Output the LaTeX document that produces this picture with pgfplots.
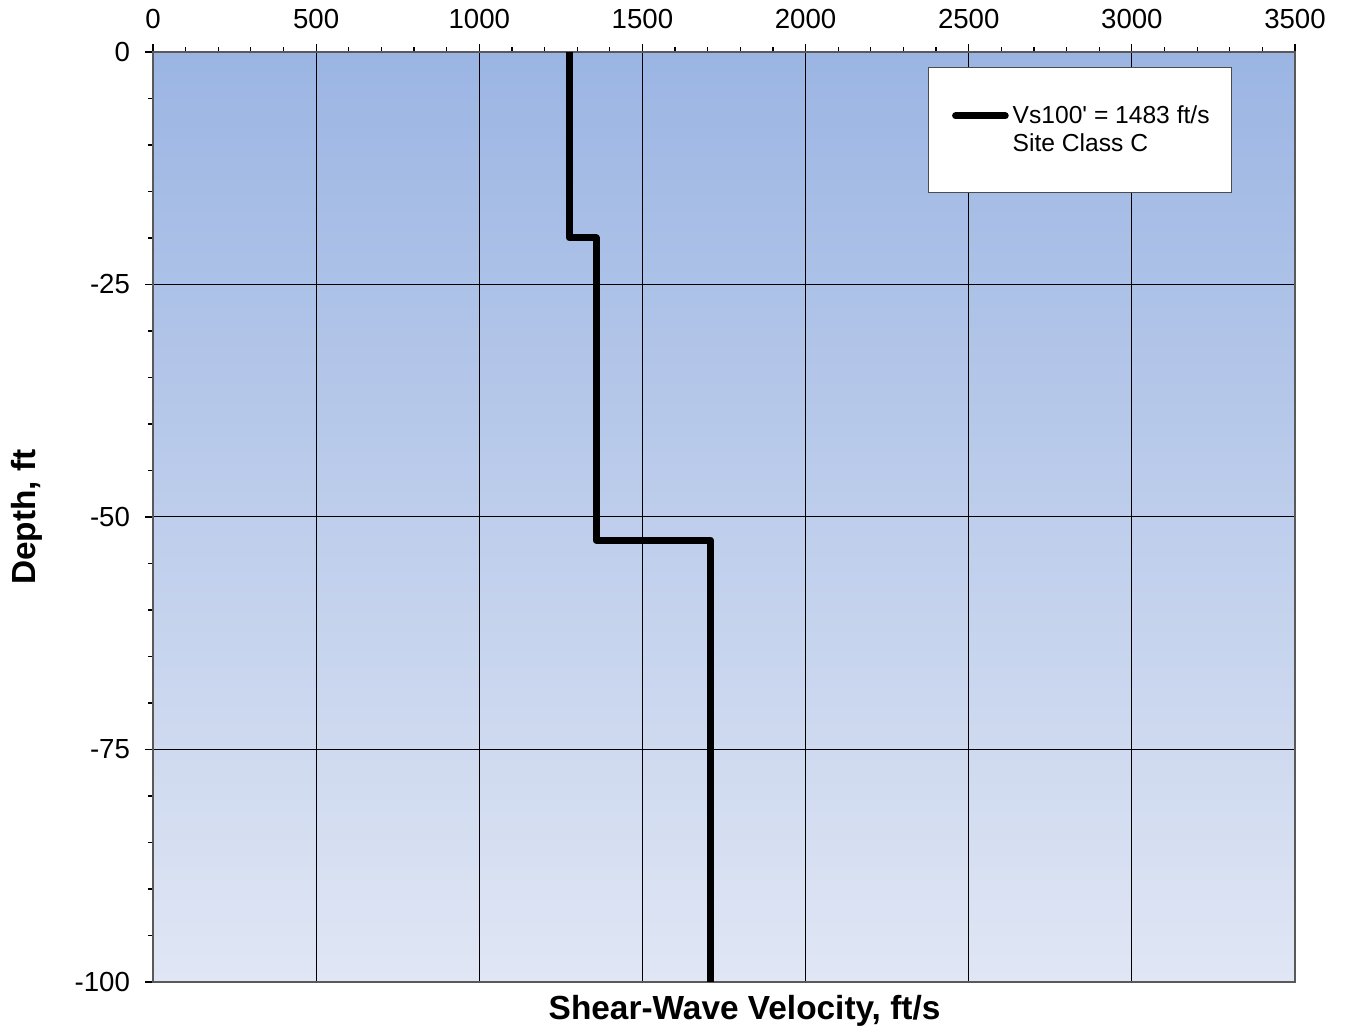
\documentclass[border=0pt]{standalone}
\usepackage{fontspec}
\setmainfont{Liberation Sans}
\usepackage{pgfplots}
\pgfplotsset{compat=1.18}
\definecolor{bgtop}{RGB}{155,181,227}
\definecolor{bgbot}{RGB}{224,230,244}
\begin{document}
\begin{tikzpicture}
\useasboundingbox (-76.5pt,-27pt) rectangle (596.5pt,491pt);
\begin{axis}[
  scale only axis, width=571pt, height=465pt,
  xmin=0, xmax=3500, ymin=-100, ymax=0,
  xtick={0,500,...,3500}, ytick={0,-25,-50,-75,-100},
  minor x tick num=4, minor y tick num=4,
  xtick pos=top, ytick pos=left, xticklabel pos=top,
  tick align=outside,
  major tick length=4pt, minor tick length=2.5pt,
  tick style={black, line width=0.6pt},
  grid=major, major grid style={black, line width=0.5pt},
  axis line style={draw=black!65, line width=1pt},
  axis background/.style={top color=bgtop, bottom color=bgbot},
  /pgf/number format/assume math mode=true,
  /pgf/number format/1000 sep={},
  ticklabel style={font=\fontsize{13.8}{15}\selectfont},
  yticklabel style={xshift=-4pt},
  xticklabel style={yshift=4pt},
  xlabel={Shear-Wave Velocity, ft/s},
  ylabel={Depth, ft},
  label style={font=\fontsize{16.7}{18}\selectfont\bfseries},
  xlabel style={at={(axis description cs:0.518,0)}, anchor=north, yshift=-3pt},
  ylabel style={at={(axis description cs:0,0.5)}, anchor=south, yshift=52pt},
  legend style={at={(axis description cs:0.945,0.984)}, anchor=north east,
    draw=black!70, fill=white, line width=0.6pt,
    inner xsep=9pt, inner ysep=17pt,
    font=\fontsize{12.3}{14}\selectfont, row sep=-0.5pt},
  legend cell align=left,
  legend image code/.code={\path[draw=none] (-6pt,0pt) -- (0pt,0pt); \draw[#1, line cap=round] (-1.5pt,0cm) -- (0.82cm,0cm);},
]
\addplot[black, line width=3.5pt, line join=round] coordinates {
  (1276,0) (1276,-20) (1358,-20) (1358,-52.5) (1709,-52.5) (1709,-100)
};
\addlegendentry{Vs100\textquotesingle\ = 1483 ft/s}
\addlegendimage{empty legend}
\addlegendentry{Site Class C}
\end{axis}
\end{tikzpicture}
\end{document}
